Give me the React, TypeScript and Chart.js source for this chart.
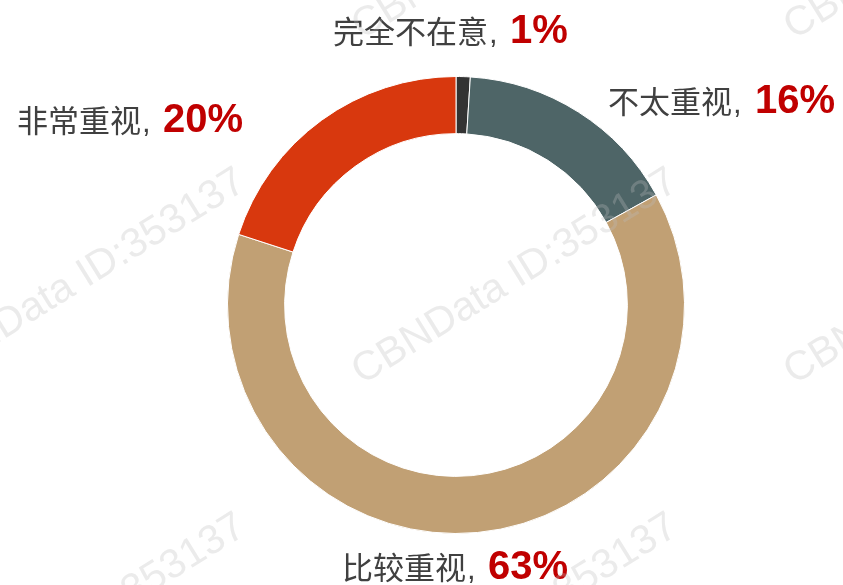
import React, { useEffect, useRef } from "react";
import { Chart, registerables } from "chart.js";

Chart.register(...registerables);

const categories = ["完全不在意", "不太重视", "比较重视", "非常重视"];
const values = [1, 16, 63, 20];
const percentLabels = ["1%", "16%", "63%", "20%"];
const colors = ["#333333", "#4e6567", "#c1a074", "#d8380e"];
const watermark = "CBNData ID:353137";

// label anchors: [text left x, baseline y, percent left x]
const labelPos: [number, number, number][] = [
  [333, 43, 510],
  [608, 113, 755],
  [342, 579, 488],
  [17, 132, 163],
];

const labelPlugin = {
  id: "labels",
  afterDraw(chart: any) {
    const ctx = chart.ctx;
    ctx.save();
    ctx.textBaseline = "alphabetic";
    ctx.textAlign = "left";
    categories.forEach((c, i) => {
      const [x, y, px] = labelPos[i];
      ctx.font = '31px "Noto Sans CJK SC", sans-serif';
      ctx.fillStyle = "#404040";
      ctx.fillText(c, x, y);
      const w = ctx.measureText(c).width;
      ctx.font = '31px "Liberation Sans", Arial, sans-serif';
      ctx.fillText(",", x + w + 1, y);
      ctx.font = 'bold 40px "Liberation Sans", Arial, sans-serif';
      ctx.fillStyle = "#c00000";
      ctx.fillText(percentLabels[i], px, y);
    });
    // watermark tiles
    ctx.font = '41px "Liberation Sans", Arial, sans-serif';
    ctx.fillStyle = "rgba(190,190,190,0.3)";
    const ang = -Math.atan2(195, 315);
    for (let j = 0; j < 3; j++) {
      for (let i = -1; i < 3; i++) {
        const sx = 362 + 432 * i;
        const sy = 40 + 345 * j;
        ctx.save();
        ctx.translate(sx, sy);
        ctx.rotate(ang);
        ctx.fillText(watermark, 0, 0);
        ctx.restore();
      }
    }
    ctx.restore();
  },
};

export default function App() {
  const ref = useRef<HTMLCanvasElement>(null);
  useEffect(() => {
    document.body.style.margin = "0";
    const chart = new Chart(ref.current!, {
      type: "doughnut",
      data: {
        labels: categories,
        datasets: [
          {
            data: values,
            backgroundColor: colors,
            borderColor: "#ffffff",
            borderWidth: 1,
          },
        ],
      },
      options: {
        responsive: false,
        animation: false,
        cutout: "75%",
        rotation: 0,
        layout: { padding: { top: 76, bottom: 51, left: 227, right: 158 } },
        plugins: {
          legend: { display: false },
          tooltip: { enabled: false },
        },
      },
      plugins: [labelPlugin],
    });
    return () => chart.destroy();
  }, []);
  return (
    <div style={{ position: "absolute", left: 0, top: 0, width: 843, height: 585, background: "#fff" }}>
      <canvas ref={ref} width={843} height={585} />
    </div>
  );
}
